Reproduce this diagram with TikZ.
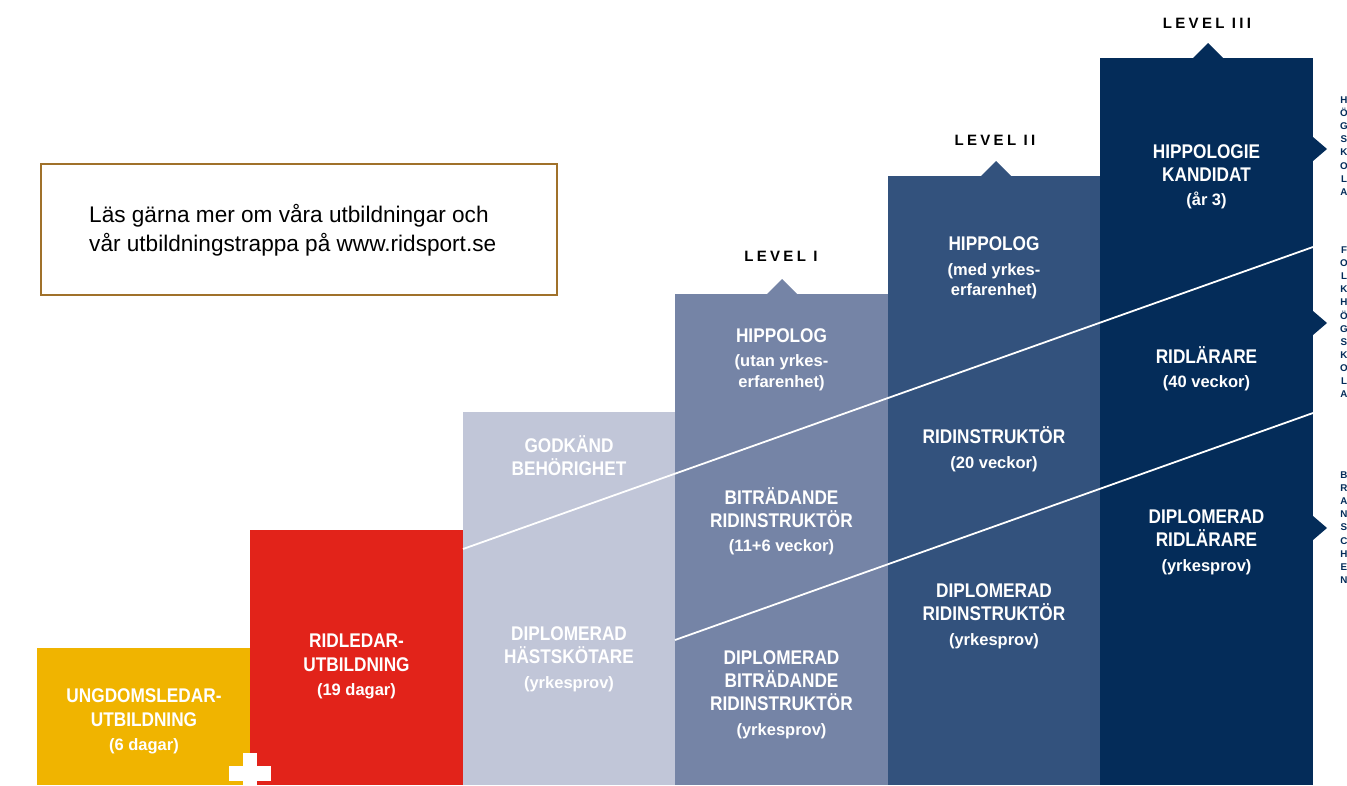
\documentclass[tikz,border=0pt]{standalone}
\usepackage{fontspec}
\setmainfont{Liberation Sans}
\newfontfamily\condf{Liberation Sans}[FakeStretch=0.87]
\newfontfamily\subf{Liberation Sans}
\newfontfamily\lvlf{Liberation Sans}[LetterSpace=22]
\definecolor{cyellow}{HTML}{F0B400}
\definecolor{cred}{HTML}{E2231A}
\definecolor{clav}{HTML}{C1C6D8}
\definecolor{cone}{HTML}{7584A6}
\definecolor{ctwo}{HTML}{33527D}
\definecolor{cthree}{HTML}{042C59}
\definecolor{cbrown}{HTML}{A0712A}
\tikzset{
  mainl/.style={font=\condf\bfseries\fontsize{19.8}{23}\selectfont, text=white, anchor=base, inner sep=0pt},
  subl/.style={font=\subf\bfseries\fontsize{16.5}{21}\selectfont, text=white, anchor=base, inner sep=0pt},
  lvl/.style={font=\lvlf\bfseries\fontsize{15}{18}\selectfont, text=black, anchor=base, inner sep=0pt},
  side/.style={font=\subf\bfseries\fontsize{9.8}{13.1}\selectfont, text=cthree, anchor=north, align=center, inner sep=0pt},
  diag/.style={draw=white, line width=1.8pt},
  infotext/.style={font=\subf\fontsize{22.6}{27}\selectfont, text=black, anchor=base west, inner sep=0pt},
}
\begin{document}
\begin{tikzpicture}[x=1pt,y=-1pt]
\useasboundingbox (0,0) rectangle (1347,785);
% columns
\fill[cyellow] (37,648) rectangle (250,785);
\fill[cred] (250,530) rectangle (463,785);
\fill[clav] (463,412) rectangle (675,785);
\fill[cone] (675,294) rectangle (888,785);
\fill[cone] (767,294) -- (782,279) -- (797,294) -- cycle;
\fill[ctwo] (888,176) rectangle (1100,785);
\fill[ctwo] (981,176) -- (996,161) -- (1011,176) -- cycle;
\fill[cthree] (1100,58) rectangle (1313,785);
\fill[cthree] (1193,58) -- (1208,43) -- (1223,58) -- cycle;
% right pointers
\fill[cthree] (1313,137) -- (1327,149) -- (1313,161) -- cycle;
\fill[cthree] (1313,311) -- (1327,323) -- (1313,335) -- cycle;
\fill[cthree] (1313,516) -- (1327,528) -- (1313,540) -- cycle;
% plus
\fill[white] (229,766) rectangle (271,781);
\fill[white] (243,753) rectangle (257,785);
% diagonal lines
\coordinate (d1s) at (463,549);
\coordinate (d1e) at (1313,247);
\coordinate (d2s) at (675,640);
\coordinate (d2e) at (1313,413);
\draw[diag] (d1s) -- (d1e);
\draw[diag] (d2s) -- (d2e);
% info box
\draw[cbrown, line width=2.5pt] (41,164) rectangle (557,295);
\node[infotext] (info1) at (89,222) {Läs gärna mer om våra utbildningar och};
\node[infotext] (info2) at (89,251) {vår utbildningstrappa på www.ridsport.se};
% level labels
\node[lvl] (lv1) at (781,261.5) {LEVEL I};
\node[lvl] (lv2) at (995,145.5) {LEVEL II};
\node[lvl] (lv3) at (1207,28.5) {LEVEL III};
% yellow
\node[mainl] (y1) at (144,702) {UNGDOMSLEDAR-};
\node[mainl] (y2) at (144,726) {UTBILDNING};
\node[subl] (y3) at (144,750) {(6 dagar)};
% red
\node[mainl] (r1) at (356.5,647) {RIDLEDAR-};
\node[mainl] (r2) at (356.5,671) {UTBILDNING};
\node[subl] (r3) at (356.5,695) {(19 dagar)};
% lavender
\node[mainl] (l1) at (569,452) {GODKÄND};
\node[mainl] (l2) at (569,475) {BEHÖRIGHET};
\node[mainl] (l3) at (569,640) {DIPLOMERAD};
\node[mainl] (l4) at (569,663) {HÄSTSKÖTARE};
\node[subl] (l5) at (569,688) {(yrkesprov)};
% level I
\node[mainl] (a1) at (781.5,342) {HIPPOLOG};
\node[subl] (a2) at (781.5,366) {(utan yrkes-};
\node[subl] (a3) at (781.5,387) {erfarenhet)};
\node[mainl] (a4) at (781.5,504) {BITRÄDANDE};
\node[mainl] (a5) at (781.5,527) {RIDINSTRUKTÖR};
\node[subl] (a6) at (781.5,551) {(11+6 veckor)};
\node[mainl] (a7) at (781.5,664) {DIPLOMERAD};
\node[mainl] (a8) at (781.5,687) {BITRÄDANDE};
\node[mainl] (a9) at (781.5,710) {RIDINSTRUKTÖR};
\node[subl] (a10) at (781.5,735) {(yrkesprov)};
% level II
\node[mainl] (b1) at (994,250) {HIPPOLOG};
\node[subl] (b2) at (994,275) {(med yrkes-};
\node[subl] (b3) at (994,295) {erfarenhet)};
\node[mainl] (b4) at (994,443) {RIDINSTRUKTÖR};
\node[subl] (b5) at (994,468) {(20 veckor)};
\node[mainl] (b6) at (994,597) {DIPLOMERAD};
\node[mainl] (b7) at (994,620) {RIDINSTRUKTÖR};
\node[subl] (b8) at (994,645) {(yrkesprov)};
% level III
\node[mainl] (c1) at (1206.5,158) {HIPPOLOGIE};
\node[mainl] (c2) at (1206.5,181) {KANDIDAT};
\node[subl] (c3) at (1206.5,205) {(år 3)};
\node[mainl] (c4) at (1206.5,363) {RIDLÄRARE};
\node[subl] (c5) at (1206.5,387) {(40 veckor)};
\node[mainl] (c6) at (1206.5,523) {DIPLOMERAD};
\node[mainl] (c7) at (1206.5,546) {RIDLÄRARE};
\node[subl] (c8) at (1206.5,571) {(yrkesprov)};
% side labels
\node[side] (s1) at (1344,96.6) {H\\Ö\\G\\S\\K\\O\\L\\A};
\node[side] (s2) at (1344,246.6) {F\\O\\L\\K\\H\\Ö\\G\\S\\K\\O\\L\\A};
\node[side] (s3) at (1344,471.6) {B\\R\\A\\N\\S\\C\\H\\E\\N};
\end{tikzpicture}
\end{document}
